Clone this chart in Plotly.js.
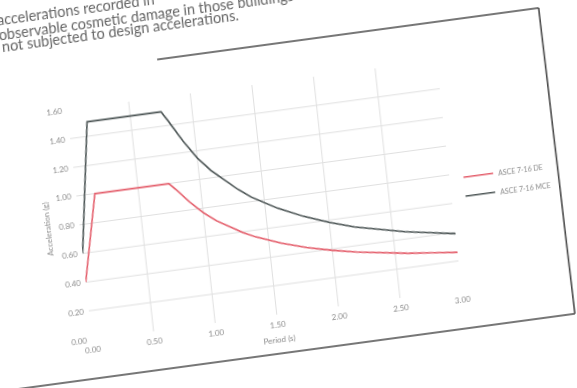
<!DOCTYPE html>
<html>
<head>
<meta charset="utf-8">
<script src="https://cdn.plot.ly/plotly-3.0.1.min.js"></script>
<style>
  html, body { margin: 0; padding: 0; width: 577px; height: 388px; overflow: hidden; background: #ffffff; }
  #chart { position: absolute; left: 0; top: 0; width: 640px; height: 440px;
           transform-origin: 0 0;
           transform: matrix(0.991, -0.134, 0.108, 0.994, -68.1, -23.0);
           filter: blur(0.4px); }
</style>
</head>
<body>
<div id="chart"></div>
<script>
// Periods (s)
const periods = [0, 0.15, 0.75, 0.8, 0.9, 1.0, 1.1, 1.2, 1.3, 1.4, 1.6, 1.8, 2.0, 2.2, 2.4, 2.6, 2.8, 3.0];
// ASCE 7-16 DE spectrum (g)
const deValues = [0.40, 1.00, 1.00, 0.955, 0.855, 0.77, 0.70, 0.645, 0.595, 0.553, 0.487, 0.433, 0.39, 0.355, 0.325, 0.30, 0.28, 0.26];
// ASCE 7-16 MCE spectrum (g)
const mceValues = [0.60, 1.50, 1.50, 1.43, 1.28, 1.15, 1.05, 0.97, 0.895, 0.83, 0.73, 0.65, 0.585, 0.53, 0.49, 0.45, 0.42, 0.39];
const seriesNames = ["ASCE 7-16 DE", "ASCE 7-16 MCE"];
const xTickVals = [0, 0.5, 1.0, 1.5, 2.0, 2.5, 3.0];
const yTickVals = [0, 0.2, 0.4, 0.6, 0.8, 1.0, 1.2, 1.4, 1.6];
const xTitle = "Period (s)";
const yTitle = "Acceleration (g)";
const paragraphLines = [
  "accelerations recorded in",
  "observable cosmetic damage in those buildings",
  "not subjected to design accelerations."
];

const traces = [
  { x: periods, y: deValues, name: seriesNames[0], type: "scatter", mode: "lines",
    line: { color: "#e45f6c", width: 1.6 } },
  { x: periods, y: mceValues, name: seriesNames[1], type: "scatter", mode: "lines",
    line: { color: "#4d5656", width: 1.6 } }
];

const textColor = "#8c8c8c";
const paraFont = { family: "Lato, sans-serif", size: 14.5, color: "#666666" };
const layout = {
  width: 640, height: 440,
  margin: { l: 120, t: 150, r: 147, b: 59 },
  paper_bgcolor: "rgba(0,0,0,0)",
  plot_bgcolor: "#ffffff",
  font: { family: "Lato, 'Open Sans', sans-serif", size: 8, color: textColor },
  showlegend: true,
  legend: { x: 1.024, y: 0.44, xanchor: "left", yanchor: "middle",
            font: { size: 7, color: textColor }, bgcolor: "rgba(0,0,0,0)",
            itemwidth: 30, tracegroupgap: 0 },
  xaxis: {
    range: [0, 3], tickvals: xTickVals, tickformat: ".2f",
    showgrid: true, gridcolor: "#e0e0e0", gridwidth: 1,
    zeroline: false, showline: false, ticks: "", ticklabelstandoff: 4,
    tickfont: { size: 8, color: textColor },
    title: { text: xTitle, font: { size: 8, color: textColor }, standoff: 8 }
  },
  yaxis: {
    range: [0, 1.6], tickvals: yTickVals, tickformat: ".2f",
    showgrid: true, gridcolor: "#e0e0e0", gridwidth: 1,
    zeroline: false, showline: false, ticks: "", ticklabelstandoff: 4,
    tickfont: { size: 8, color: textColor },
    title: { text: yTitle, font: { size: 8, color: textColor }, standoff: 6 }
  },
  shapes: [
    { type: "line", xref: "paper", yref: "paper", x0: 0.255, y0: 1.1645, x1: 1.287, y1: 1.1645,
      line: { color: "#4a4a4a", width: 1.6 } },
    { type: "line", xref: "paper", yref: "paper", x0: 1.287, y0: 1.1645, x1: 1.295, y1: -0.169,
      line: { color: "#4a4a4a", width: 1.6 } },
    { type: "line", xref: "paper", yref: "paper", x0: 1.295, y0: -0.169, x1: -0.295, y1: -0.169,
      line: { color: "#4a4a4a", width: 1.6 } }
  ],
  annotations: [
    { text: paragraphLines[0], xref: "paper", yref: "paper", x: -0.167, y: 1.425,
      xanchor: "left", yanchor: "middle", showarrow: false, font: paraFont },
    { text: paragraphLines[1], xref: "paper", yref: "paper", x: -0.167, y: 1.362,
      xanchor: "left", yanchor: "middle", showarrow: false, font: paraFont },
    { text: paragraphLines[2], xref: "paper", yref: "paper", x: -0.16, y: 1.31,
      xanchor: "left", yanchor: "middle", showarrow: false, font: paraFont }
  ]
};

Plotly.newPlot("chart", traces, layout, { staticPlot: true, displayModeBar: false });
</script>
</body>
</html>
